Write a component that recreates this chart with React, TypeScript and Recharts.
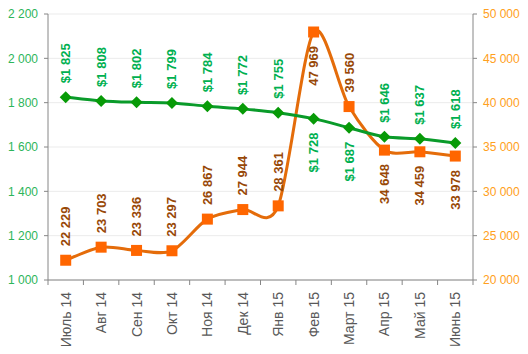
import React from "react";
import { LineChart, Line, XAxis, YAxis, CartesianGrid } from "recharts";

const months = ["Июль 14", "Авг 14", "Сен 14", "Окт 14", "Ноя 14", "Дек 14", "Янв 15", "Фев 15", "Март 15", "Апр 15", "Май 15", "Июнь 15"];
const priceUsd = [1825, 1808, 1802, 1799, 1784, 1772, 1755, 1728, 1687, 1646, 1637, 1618];
const priceRub = [22229, 23703, 23336, 23297, 26867, 27944, 28361, 47969, 39560, 34648, 34459, 33978];
const usdLabelSide = ["up", "up", "up", "up", "up", "up", "up", "down", "down", "up", "up", "up"];
const rubLabelSide = ["up", "up", "up", "up", "up", "up", "up", "down", "up", "down", "down", "down"];
const leftTicks = [1000, 1200, 1400, 1600, 1800, 2000, 2200];
const rightTicks = [20000, 25000, 30000, 35000, 40000, 45000, 50000];

const data = months.map((m, i) => ({ month: m, usd: priceUsd[i], rub: priceRub[i] }));

const W = 528;
const H = 354;
const LEFT_W = 48;
const RIGHT_W = 55;
const TOP = 14;
const XAXIS_H = 74;
const plotW = W - LEFT_W - RIGHT_W;
const band = plotW / months.length;

const FONT = '"Liberation Sans", Arial, sans-serif';
const GREEN_LINE = "#0A9B2A";
const GREEN_MARK = "#079A07";
const GREEN_TEXT = "#00B050";
const AXIS_GREEN = "#2DB55A";
const ORANGE_LINE = "#E46C0A";
const ORANGE_MARK = "#FF6600";
const BROWN_TEXT = "#984807";
const AXIS_ORANGE = "#FFA020";
const AXIS_LINE = "#868686";

const fmt = (v: number) => String(v).replace(/\B(?=(\d{3})+(?!\d))/g, " ");

// Excel-like smoothed line (Catmull-Rom as cubic Bezier, slightly softened)
const SMOOTH = 1 / 7;
const smoothCurve: any = (context: any) => {
  let xs: number[] = [];
  let ys: number[] = [];
  return {
    areaStart() {},
    areaEnd() {},
    lineStart() {
      xs = [];
      ys = [];
    },
    point(x: number, y: number) {
      xs.push(+x);
      ys.push(+y);
    },
    lineEnd() {
      const n = xs.length;
      if (!n) return;
      context.moveTo(xs[0], ys[0]);
      for (let i = 0; i < n - 1; i++) {
        const x0 = i > 0 ? xs[i - 1] : xs[i];
        const y0 = i > 0 ? ys[i - 1] : ys[i];
        const x3 = i + 2 < n ? xs[i + 2] : xs[i + 1];
        const y3 = i + 2 < n ? ys[i + 2] : ys[i + 1];
        const c1x = xs[i] + (xs[i + 1] - x0) * SMOOTH;
        const c1y = ys[i] + (ys[i + 1] - y0) * SMOOTH;
        const c2x = xs[i + 1] - (x3 - xs[i]) * SMOOTH;
        const c2y = ys[i + 1] - (y3 - ys[i]) * SMOOTH;
        context.bezierCurveTo(c1x, c1y, c2x, c2y, xs[i + 1], ys[i + 1]);
      }
    },
  };
};

const Diamond = (props: any) => {
  const { cx, cy, index } = props;
  if (cx == null || cy == null) return <g key={`d-${index}`} />;
  const r = 6;
  return (
    <path
      key={`d-${index}`}
      d={`M${cx},${cy - r}L${cx + r},${cy}L${cx},${cy + r}L${cx - r},${cy}Z`}
      fill={GREEN_MARK}
    />
  );
};

const Square = (props: any) => {
  const { cx, cy, index } = props;
  if (cx == null || cy == null) return <g key={`s-${index}`} />;
  const s = 11;
  return <rect key={`s-${index}`} x={cx - s / 2} y={cy - s / 2} width={s} height={s} fill={ORANGE_MARK} />;
};

const makeLabel = (sides: string[], color: string, prefix: string) => (props: any) => {
  const { x, y, value, index } = props;
  const side = sides[index];
  const off = 14;
  const ty = side === "up" ? y - off : y + off;
  return (
    <text
      x={x}
      y={ty}
      transform={`rotate(-90 ${x} ${ty})`}
      textAnchor={side === "up" ? "start" : "end"}
      dominantBaseline="central"
      fill={color}
      fontSize={13}
      fontWeight="bold"
      fontFamily={FONT}
    >
      {prefix + fmt(value)}
    </text>
  );
};

const XTick = (props: any) => {
  const { x, y, payload, index } = props;
  const axisY = y - 12;
  return (
    <g>
      <line x1={x - band / 2} x2={x - band / 2} y1={axisY} y2={axisY + 5} stroke={AXIS_LINE} />
      {index === months.length - 1 && (
        <line x1={x + band / 2} x2={x + band / 2} y1={axisY} y2={axisY + 5} stroke={AXIS_LINE} />
      )}
      <text
        x={x}
        y={y}
        transform={`rotate(-90 ${x} ${y})`}
        textAnchor="end"
        dominantBaseline="central"
        fill="#595959"
        fontSize={14}
        fontFamily={FONT}
      >
        {payload.value}
      </text>
    </g>
  );
};

export default function App() {
  return (
    <div style={{ position: "absolute", left: 0, top: 0, width: W, height: H, background: "#fff" }}>
      <LineChart width={W} height={H} data={data} margin={{ top: TOP, right: 0, bottom: 0, left: 0 }}>
        <CartesianGrid yAxisId="left" vertical={false} stroke="#EBEBEB" />
        <XAxis
          dataKey="month"
          height={XAXIS_H}
          interval={0}
          padding={{ left: band / 2, right: band / 2 }}
          axisLine={{ stroke: AXIS_LINE }}
          tickLine={false}
          tickSize={5}
          tickMargin={7}
          tick={<XTick />}
        />
        <YAxis
          yAxisId="left"
          width={LEFT_W}
          domain={[1000, 2200]}
          ticks={leftTicks}
          interval={0}
          tickFormatter={fmt}
          axisLine={{ stroke: AXIS_LINE }}
          tickLine={{ stroke: AXIS_LINE }}
          tickSize={4}
          tickMargin={6}
          tick={{ fill: AXIS_GREEN, fontSize: 12, fontFamily: FONT }}
        />
        <YAxis
          yAxisId="right"
          orientation="right"
          width={RIGHT_W}
          domain={[20000, 50000]}
          ticks={rightTicks}
          interval={0}
          tickFormatter={fmt}
          axisLine={{ stroke: AXIS_LINE }}
          tickLine={{ stroke: AXIS_LINE }}
          tickSize={4}
          tickMargin={6}
          tick={{ fill: AXIS_ORANGE, fontSize: 12, fontFamily: FONT }}
        />
        <Line
          yAxisId="right"
          dataKey="rub"
          type={smoothCurve}
          stroke={ORANGE_LINE}
          strokeWidth={3}
          dot={Square}
          activeDot={false}
          label={makeLabel(rubLabelSide, BROWN_TEXT, "")}
          isAnimationActive={false}
        />
        <Line
          yAxisId="left"
          dataKey="usd"
          type={smoothCurve}
          stroke={GREEN_LINE}
          strokeWidth={3}
          dot={Diamond}
          activeDot={false}
          label={makeLabel(usdLabelSide, GREEN_TEXT, "$")}
          isAnimationActive={false}
        />
      </LineChart>
    </div>
  );
}
